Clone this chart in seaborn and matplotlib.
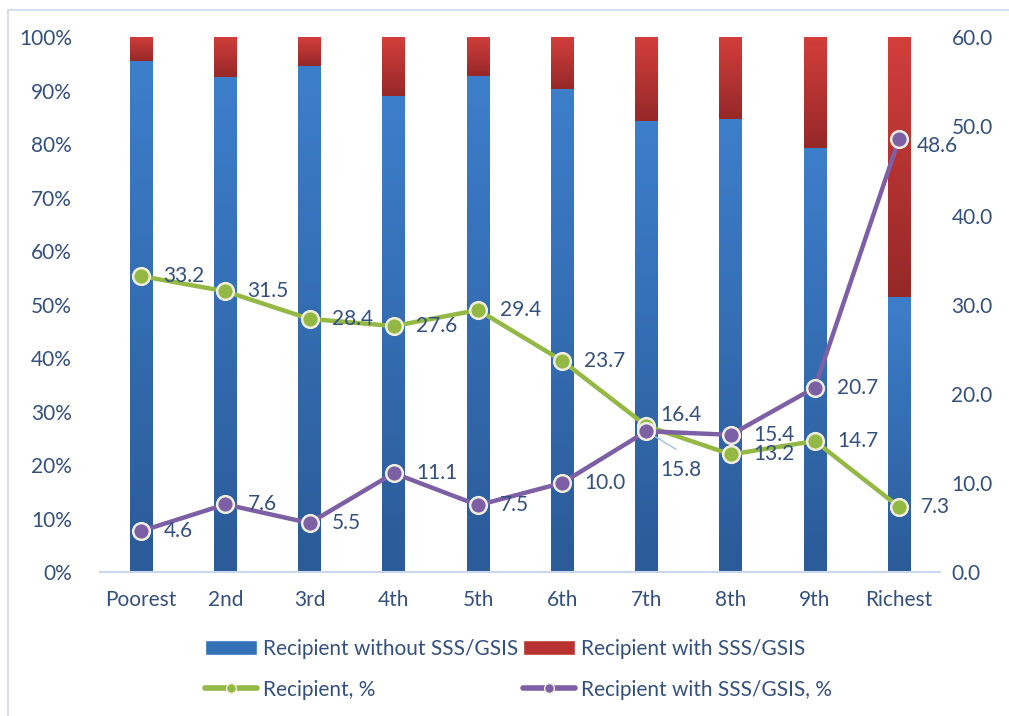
import numpy as np
import matplotlib
matplotlib.use("Agg")
import matplotlib.pyplot as plt
import matplotlib.colors as mcolors
from matplotlib.lines import Line2D
from matplotlib.patches import Patch
import seaborn as sns

# data
deciles = ["Poorest", "2nd", "3rd", "4th", "5th", "6th", "7th", "8th", "9th", "Richest"]
share_without = [95.5, 92.5, 94.7, 89.0, 92.7, 90.3, 84.3, 84.8, 79.3, 51.5]
share_with = [4.5, 7.5, 5.3, 11.0, 7.3, 9.7, 15.7, 15.2, 20.7, 48.5]
recipient_pct = [33.2, 31.5, 28.4, 27.6, 29.4, 23.7, 16.4, 13.2, 14.7, 7.3]
recipient_sss_pct = [4.6, 7.6, 5.5, 11.1, 7.5, 10.0, 15.8, 15.4, 20.7, 48.6]

sns.set_style("white")
plt.rcParams["font.family"] = ["Lato", "DejaVu Sans"]

txt = "#34507d"
blue = "#3a78c3"
red = "#c23633"
green = "#93b844"
purple = "#7d5fa6"
fs = 15

fig = plt.figure(figsize=(10.09, 7.16), dpi=100)
ax = fig.add_axes([0.099, 0.201, 0.833, 0.747])

totals = [a + b for a, b in zip(share_without, share_with)]
sns.barplot(x=deciles, y=totals, color=red, width=0.27, ax=ax, saturation=1)
sns.barplot(x=deciles, y=share_without, color=blue, width=0.27, ax=ax, saturation=1)

# gradient fill on the bars (darker towards the bottom)
grad_blue = mcolors.LinearSegmentedColormap.from_list("gb", ["#2b5b98", "#3d7ecb"])
grad_red = mcolors.LinearSegmentedColormap.from_list("gr", ["#962828", "#d23e3b"])
n = len(deciles)
for i, p in enumerate(ax.patches[:2 * n]):
    x0, y0 = p.get_x(), p.get_y()
    w, h = p.get_width(), p.get_height()
    cmap = grad_red if i < n else grad_blue
    if i < n:
        y0 = share_without[i]
        h = 100 - y0
    g = np.linspace(0, 1, 100).reshape(-1, 1)
    im = ax.imshow(g, cmap=cmap, origin="lower", aspect="auto",
                   extent=[x0, x0 + w, y0, y0 + h], zorder=p.get_zorder() + 0.1)
    im.set_clip_path(p)

ax.set_xlim(-0.49, 9.49)
ax.set_ylim(0, 100)
ax.set_yticks(range(0, 101, 10))
ax.set_yticklabels([f"{v}%" for v in range(0, 101, 10)])
ax.tick_params(axis="both", length=0, labelsize=fs, labelcolor=txt)
ax.tick_params(axis="x", pad=13)
ax.tick_params(axis="y", pad=20)
for s in ["top", "right", "left"]:
    ax.spines[s].set_visible(False)
ax.spines["bottom"].set_color("#c9d8ee")
ax.spines["bottom"].set_linewidth(1.5)
ax.set_xlabel("")
ax.set_ylabel("")

ax2 = ax.twinx()
xs = np.arange(n)
sns.lineplot(x=xs, y=recipient_pct, ax=ax2, color=green, lw=3.2, marker="o",
             markersize=12, markerfacecolor=green, markeredgecolor="#f1eedf",
             markeredgewidth=1.8, zorder=5)
sns.lineplot(x=xs, y=recipient_sss_pct, ax=ax2, color=purple, lw=3.2, marker="o",
             markersize=12, markerfacecolor=purple, markeredgecolor="#f1eedf",
             markeredgewidth=1.8, zorder=6)
ax2.set_ylim(0, 60)
ax2.set_yticks(range(0, 61, 10))
ax2.set_yticklabels([f"{v:.1f}" for v in range(0, 61, 10)])
ax2.tick_params(axis="y", length=0, labelsize=fs, labelcolor=txt, pad=8)
for s in ax2.spines.values():
    s.set_visible(False)
ax2.set_xlim(-0.49, 9.49)

# data labels
for i, v in enumerate(recipient_pct):
    off = (10, 8) if i == 6 else (16, 0)
    ax2.annotate(f"{v:.1f}", (i, v), xytext=off, textcoords="offset points",
                 ha="left", va="center", fontsize=fs, color=txt, zorder=8)
for i, v in enumerate(recipient_sss_pct):
    if i == 6:
        ax2.annotate(f"{v:.1f}", (i, v), xytext=(10, -28), textcoords="offset points",
                     ha="left", va="center", fontsize=fs, color=txt, zorder=8)
        ax2.annotate("", (i, v), xytext=(i + 0.38, v - 2.2), textcoords="data",
                     arrowprops=dict(arrowstyle="-", color="#9dc3e6", lw=1), zorder=4)
    else:
        off = (13, -5) if i == n - 1 else (16, 0)
        ax2.annotate(f"{v:.1f}", (i, v), xytext=off, textcoords="offset points",
                     ha="left", va="center", fontsize=fs, color=txt, zorder=8)

handles = [
    Patch(facecolor="#3470b8", label="Recipient without SSS/GSIS"),
    Line2D([0], [0], color=green, lw=4, marker="o", markersize=7,
           markerfacecolor=green, markeredgecolor="#f1eedf", label="Recipient, %"),
    Patch(facecolor="#b83231", label="Recipient with SSS/GSIS"),
    Line2D([0], [0], color=purple, lw=4, marker="o", markersize=7,
           markerfacecolor=purple, markeredgecolor="#f1eedf", label="Recipient with SSS/GSIS, %"),
]
leg = fig.legend(handles=handles, ncol=2, loc="upper left",
                 bbox_to_anchor=(186 / 1009, 1 - 620 / 716), frameon=False,
                 fontsize=fs, handlelength=2.5, handleheight=0.8,
                 handletextpad=0.3, columnspacing=0.2, labelspacing=1.0)
for t in leg.get_texts():
    t.set_color(txt)

# outer chart frame
fig.add_artist(Line2D([8 / 1009, 1.0], [1 - 10 / 716, 1 - 10 / 716],
                      transform=fig.transFigure, color="#d3e0f1", lw=1.5))
fig.add_artist(Line2D([8 / 1009, 8 / 1009], [0, 1 - 10 / 716],
                      transform=fig.transFigure, color="#d3e0f1", lw=1.5))

fig.savefig("out.png", dpi=100)
